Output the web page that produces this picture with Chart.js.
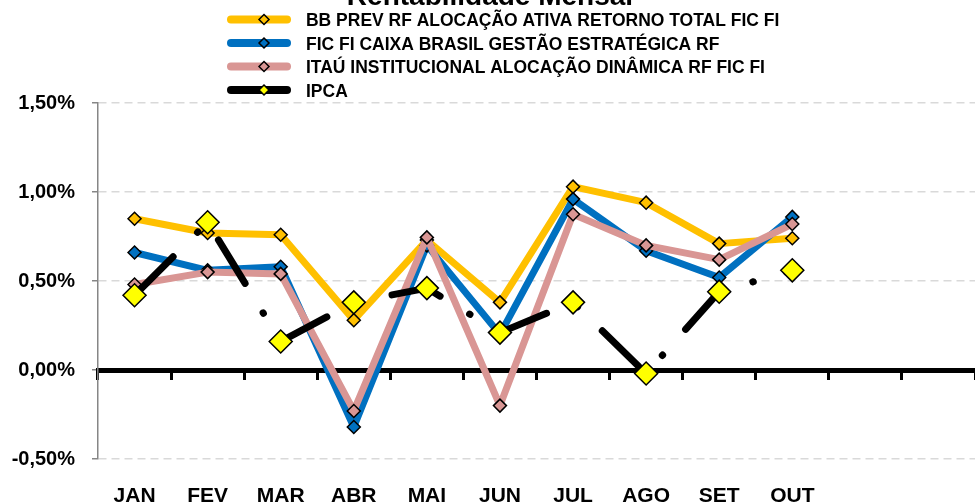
<!DOCTYPE html>
<html>
<head>
<meta charset="utf-8">
<script src="https://cdn.jsdelivr.net/npm/chart.js@4.4.0/dist/chart.umd.min.js"></script>
<style>
  html, body { margin: 0; padding: 0; background: #fff; }
</style>
</head>
<body>
<canvas id="rentChart" width="975" height="504"></canvas>
<script>
// dados (% ao mês)
const meses = ['JAN', 'FEV', 'MAR', 'ABR', 'MAI', 'JUN', 'JUL', 'AGO', 'SET', 'OUT', '', ''];
const bbPrev = [0.85, 0.77, 0.76, 0.28, 0.73, 0.38, 1.03, 0.94, 0.71, 0.74, null, null];
const caixa = [0.66, 0.56, 0.58, -0.32, 0.70, 0.20, 0.96, 0.67, 0.52, 0.86, null, null];
const itau = [0.48, 0.55, 0.54, -0.23, 0.745, -0.20, 0.875, 0.70, 0.62, 0.82, null, null];
const ipca = [0.42, 0.83, 0.16, 0.38, 0.46, 0.21, 0.38, -0.02, 0.44, 0.56, null, null];
const yTicks = [-0.5, 0, 0.5, 1, 1.5];

const FONTE = '"Liberation Sans", Arial, sans-serif';

function fundo(label, data, cor, ordem) {
  return {
    label: label,
    data: data,
    borderColor: cor,
    backgroundColor: cor,
    borderWidth: 7,
    borderJoinStyle: 'round',
    borderCapStyle: 'round',
    tension: 0,
    pointStyle: 'rectRot',
    pointRadius: 6.5,
    pointBackgroundColor: cor,
    pointBorderColor: '#000',
    pointBorderWidth: 1.5,
    order: ordem
  };
}

// legenda e título desenhados à mão (linha + losango como no Excel)
const legendaPlugin = {
  id: 'legenda',
  afterDraw(chart) {
    const ctx = chart.ctx;
    ctx.save();
    ctx.fillStyle = '#000';
    ctx.font = 'bold 28px ' + FONTE;
    ctx.textAlign = 'center';
    ctx.textBaseline = 'alphabetic';
    ctx.fillText('Rentabilidade Mensal', 490, 5);

    chart.data.datasets.forEach((ds, i) => {
      const y = 19.5 + i * 23.5;
      ctx.beginPath();
      ctx.lineCap = 'round';
      ctx.lineWidth = 8;
      ctx.strokeStyle = ds.borderColor;
      ctx.moveTo(231, y);
      ctx.lineTo(287, y);
      ctx.stroke();

      ctx.fillStyle = ds.pointBackgroundColor;
      ctx.strokeStyle = '#000';
      ctx.lineWidth = 1.5;
      ctx.beginPath();
      ctx.moveTo(264, y - 5); ctx.lineTo(269, y); ctx.lineTo(264, y + 5); ctx.lineTo(259, y);
      ctx.closePath();
      ctx.fill();
      ctx.stroke();

      ctx.save();
      ctx.fillStyle = '#000';
      ctx.font = 'bold 19px ' + FONTE;
      ctx.textAlign = 'left';
      ctx.translate(306, y + 6.5);
      ctx.scale(0.92, 1);
      ctx.fillText(ds.label, 0, 0);
      ctx.restore();
    });
    ctx.restore();
  }
};

const ctx = document.getElementById('rentChart');
new Chart(ctx, {
  type: 'line',
  data: {
    labels: meses,
    datasets: [
      fundo('BB PREV RF ALOCAÇÃO ATIVA RETORNO TOTAL FIC FI', bbPrev, '#FFC000', 4),
      fundo('FIC FI CAIXA BRASIL GESTÃO ESTRATÉGICA RF', caixa, '#0070C0', 3),
      fundo('ITAÚ INSTITUCIONAL ALOCAÇÃO DINÂMICA RF FIC FI', itau, '#D99694', 2),
      {
        label: 'IPCA',
        data: ipca,
        borderColor: '#000',
        backgroundColor: '#000',
        borderWidth: 7,
        borderDash: [51, 34.5, 0.5, 34.5],
        borderDashOffset: -3.5,
        borderCapStyle: 'round',
        borderJoinStyle: 'round',
        tension: 0,
        pointStyle: 'rectRot',
        pointRadius: 11.5,
        pointBackgroundColor: '#FFFF00',
        pointBorderColor: '#000',
        pointBorderWidth: 1.5,
        order: 1
      }
    ]
  },
  options: {
    responsive: false,
    animation: false,
    layout: { autoPadding: false, padding: { top: 103, left: 0, right: 0, bottom: 0 } },
    plugins: {
      legend: { display: false },
      title: { display: false },
      tooltip: { enabled: false }
    },
    scales: {
      x: {
        type: 'category',
        position: 'bottom',
        offset: true,
        grid: { display: false, drawTicks: false },
        border: { display: false },
        ticks: {
          color: '#000',
          padding: 25,
          maxRotation: 0,
          autoSkip: false,
          font: { family: FONTE, size: 21, weight: 'bold' }
        },
        afterFit(scale) { scale.height = 45; }
      },
      x0: {
        axis: 'x',
        type: 'category',
        position: { y: 0 },
        offset: true,
        grid: {
          offset: true,
          drawOnChartArea: false,
          drawTicks: true,
          tickLength: 7,
          color: '#000',
          lineWidth: 3
        },
        border: { display: true, color: '#000', width: 5 },
        ticks: { display: false },
        afterFit(scale) { scale.height = 0; }
      },
      y: {
        min: -0.5,
        max: 1.5,
        afterBuildTicks(scale) {
          scale.ticks = yTicks.map(v => ({ value: v }));
        },
        grid: {
          color: c => (c.tick && c.tick.value === 0) ? 'rgba(0,0,0,0)' : '#D9D9D9',
          lineWidth: 1.5,
          tickColor: '#868686',
          tickWidth: 1.5,
          tickBorderDash: [],
          tickLength: 6
        },
        border: { color: '#868686', width: 1.5, dash: [8, 5] },
        ticks: {
          color: '#000',
          padding: 17,
          font: { family: FONTE, size: 20, weight: 'bold' },
          callback: v => v.toFixed(2).replace('.', ',') + '%'
        },
        afterFit(scale) { scale.width = 98; }
      }
    }
  },
  plugins: [legendaPlugin]
});
</script>
</body>
</html>
